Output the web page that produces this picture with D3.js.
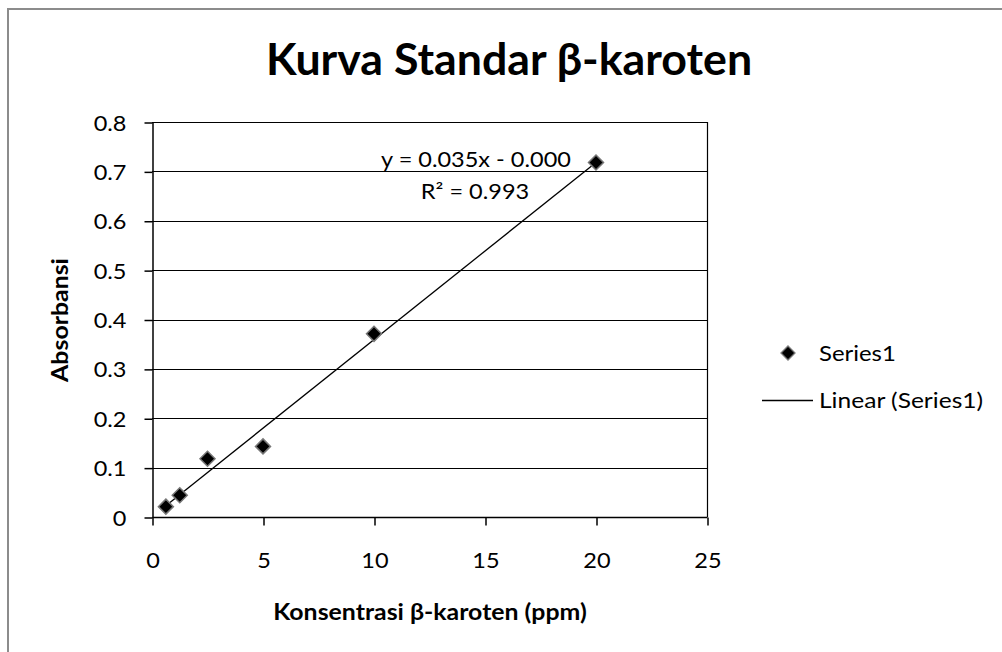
<!DOCTYPE html>
<html>
<head>
<meta charset="utf-8">
<script src="https://cdn.jsdelivr.net/npm/d3@7"></script>
<style>
  body { margin: 0; background: #fff; }
  text { font-family: Lato, "Open Sans", sans-serif; fill: #000; }
</style>
</head>
<body>
<script>
// Read the width and height of the page.
const width = 1002;
const height = 652;

// data
const konsentrasi = [0.625, 1.25, 2.5, 5, 10, 20];
const absorbansi = [0.021, 0.044, 0.118, 0.143, 0.371, 0.718];
const xTicks = [0, 5, 10, 15, 20, 25];
const yTicks = [0, 0.1, 0.2, 0.3, 0.4, 0.5, 0.6, 0.7, 0.8];
const equationLabel = 'y = 0.035x - 0.000';
const r2Label = 'R² = 0.993';
const legendLabels = ['Series1', 'Linear (Series1)'];

const points = konsentrasi.map((k, i) => ({ x: k, y: absorbansi[i] }));

// the source picture is a bit wider than tall, so text gets stretched sideways
const SX = 1.12;

const svg = d3.select('body').append('svg').attr('width', width).attr('height', height);

// put a text at (x, y) with horizontal stretch
const label = (sel, x, y, str, size, opts = {}) =>
  sel.append('text')
    .attr('transform', `translate(${x},${y}) ${opts.rotate ? `rotate(${opts.rotate})` : ''} scale(${opts.sx || SX},1)`)
    .attr('text-anchor', opts.anchor || 'middle')
    .style('font-size', size + 'px')
    .style('font-weight', opts.bold ? 'bold' : 'normal')
    .text(str);

// outer chart border (only top and left visible)
svg.append('path')
  .attr('d', `M8,${height} V9 H${width}`)
  .attr('fill', 'none')
  .attr('stroke', '#8c8c8c')
  .attr('stroke-width', 2);

const plot = { left: 152, top: 122, right: 707, bottom: 517 };

const x = d3.scaleLinear().domain([0, 25]).range([plot.left, plot.right]);
const y = d3.scaleLinear().domain([0, 0.8]).range([plot.bottom, plot.top]);

// gridlines
svg.append('g')
  .selectAll('line')
  .data(yTicks.filter((d) => d > 0))
  .join('line')
    .attr('x1', plot.left)
    .attr('x2', plot.right)
    .attr('y1', (d) => Math.round(y(d)) + 0.5)
    .attr('y2', (d) => Math.round(y(d)) + 0.5)
    .attr('stroke', '#000')
    .attr('stroke-width', 1.2);

// right edge of plot area
svg.append('line')
  .attr('x1', plot.right + 0.5).attr('x2', plot.right + 0.5)
  .attr('y1', plot.top).attr('y2', plot.bottom)
  .attr('stroke', '#000').attr('stroke-width', 1.2);

// axes
const yAxis = d3.axisLeft(y).tickValues(yTicks).tickSize(8).tickSizeOuter(0)
  .tickFormat((d) => d === 0 ? '0' : d3.format('.1f')(d));
const xAxis = d3.axisBottom(x).tickValues(xTicks).tickSize(8).tickSizeOuter(0);

const gy = svg.append('g').attr('transform', `translate(${plot.left + 0.5},0.5)`).call(yAxis);
const gx = svg.append('g').attr('transform', `translate(0.5,${plot.bottom + 0.5})`).call(xAxis);

[gx, gy].forEach((g) => {
  g.select('.domain').attr('stroke', '#000').attr('stroke-width', 1.5);
  g.selectAll('.tick line').attr('stroke', '#000').attr('stroke-width', 1.5);
  g.selectAll('.tick text')
    .attr('transform', `scale(${SX},1)`)
    .style('font-size', '21px')
    .style('font-family', 'Lato, sans-serif');
});
gy.selectAll('.tick text').attr('x', -26 / SX).attr('dy', '0.36em');
gx.selectAll('.tick text').attr('x', 0).attr('y', 51).attr('dy', 0);
gx.select('.domain').attr('d', `M${plot.left},0H${plot.right}`);

// linear trendline (least squares through the data)
const mx = d3.mean(konsentrasi);
const my = d3.mean(absorbansi);
const slope = d3.sum(points, (p) => (p.x - mx) * (p.y - my)) / d3.sum(points, (p) => (p.x - mx) ** 2);
const intercept = my - slope * mx;
const [xMin, xMax] = d3.extent(konsentrasi);

svg.append('line')
  .attr('x1', x(xMin)).attr('y1', y(slope * xMin + intercept))
  .attr('x2', x(xMax)).attr('y2', y(slope * xMax + intercept))
  .attr('stroke', '#000')
  .attr('stroke-width', 1.3);

// markers
const diamond = (r) => `M0,${-r}L${r},0L0,${r}L${-r},0Z`;

svg.append('g')
  .selectAll('path')
  .data(points)
  .join('path')
    .attr('transform', (d) => `translate(${x(d.x)},${y(d.y)})`)
    .attr('d', diamond(7.5))
    .attr('fill', '#000')
    .attr('stroke', '#777')
    .attr('stroke-width', 1.5);

// trendline labels
label(svg, 476, 167, equationLabel, 21);
label(svg, 475, 199, r2Label, 21);

// title
label(svg, 509, 75, 'Kurva Standar β-karoten', 43, { bold: true, sx: 1.04 });

// axis titles
label(svg, 430, 620, 'Konsentrasi β-karoten (ppm)', 22, { bold: true, sx: 1.13 });
label(svg, 68, 320, 'Absorbansi', 22, { bold: true, rotate: -90, sx: 1.13 });

// legend
const legend = svg.append('g');

legend.append('path')
  .attr('transform', 'translate(788,353)')
  .attr('d', diamond(7))
  .attr('fill', '#000')
  .attr('stroke', '#777')
  .attr('stroke-width', 1.3);

legend.append('line')
  .attr('x1', 762).attr('x2', 813)
  .attr('y1', 400.5).attr('y2', 400.5)
  .attr('stroke', '#000')
  .attr('stroke-width', 1.3);

legendLabels.forEach((d, i) => {
  label(legend, 819, 361 + i * 47, d, 21, { anchor: 'start', sx: i ? 1.17 : 1.14 });
});
</script>
</body>
</html>
